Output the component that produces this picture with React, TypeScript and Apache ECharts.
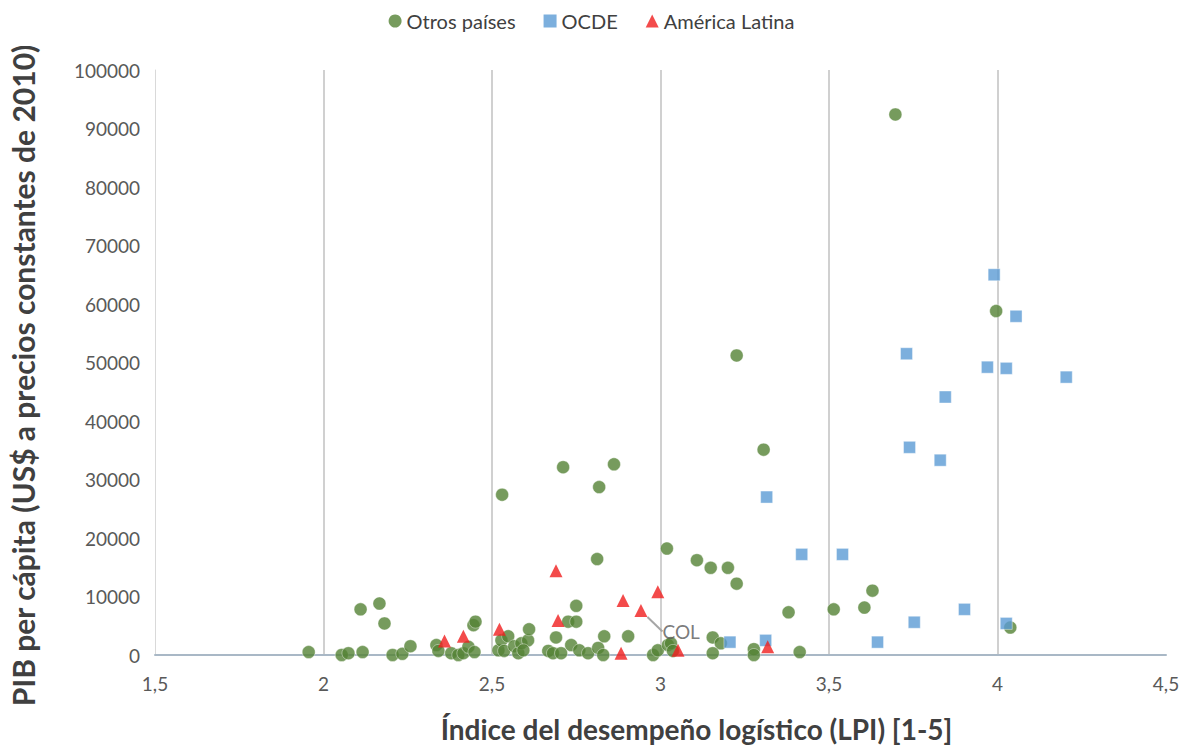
import React, { useEffect, useRef } from "react";
import * as echarts from "echarts";

// Otros países: [LPI, PIB per cápita]
const otrosX = [1.956, 2.054, 2.074, 2.116, 2.110, 2.166, 2.181, 2.205, 2.234, 2.258, 2.335, 2.341, 2.379, 2.400, 2.415, 2.430, 2.448, 2.445, 2.451, 2.519, 2.528, 2.536, 2.548, 2.566, 2.578, 2.587, 2.607, 2.610, 2.593, 2.667, 2.681, 2.690, 2.705, 2.726, 2.750, 2.750, 2.735, 2.759, 2.785, 2.815, 2.830, 2.833, 2.904, 2.978, 2.992, 3.022, 3.031, 3.037, 3.155, 3.179, 3.155, 3.277, 3.277, 3.413, 3.380, 3.514, 3.605, 3.629, 4.038, 3.019, 3.108, 3.149, 3.200, 3.226, 2.812, 2.530, 2.711, 2.862, 2.818, 3.306, 3.226, 3.996, 3.697];
const otrosY = [500, 0, 300, 500, 7800, 8800, 5400, 0, 200, 1500, 1700, 700, 300, 0, 300, 1400, 500, 5100, 5700, 800, 2500, 700, 3200, 1500, 300, 2000, 2500, 4400, 800, 700, 300, 3000, 300, 5700, 5700, 8400, 1700, 800, 300, 1200, 0, 3200, 3200, 0, 800, 1700, 2000, 700, 3000, 2000, 300, 1000, 0, 500, 7300, 7800, 8100, 11000, 4700, 18200, 16200, 14900, 14900, 12200, 16400, 27400, 32100, 32600, 28700, 35100, 51200, 58800, 92400];

// OCDE
const ocdeX = [3.990, 4.055, 3.730, 3.970, 4.026, 4.204, 3.845, 3.739, 3.830, 3.315, 3.419, 3.540, 3.902, 3.753, 4.026, 3.644, 3.206, 3.312];
const ocdeY = [65000, 57900, 51500, 49200, 49000, 47500, 44100, 35500, 33300, 27000, 17200, 17200, 7800, 5600, 5400, 2200, 2200, 2500];

// América Latina
const latamX = [2.359, 2.415, 2.522, 2.690, 2.696, 2.883, 2.889, 2.942, 2.992, 3.052, 3.318];
const latamY = [2400, 3200, 4400, 14400, 5900, 300, 9300, 7600, 10800, 800, 1400];
const latamNames = ["", "", "", "", "", "", "", "COL", "", "", ""];

const xTicks = [1.5, 2, 2.5, 3, 3.5, 4, 4.5];

const FONT = "Lato, 'Open Sans', sans-serif";

export default function App() {
  const ref = useRef<HTMLDivElement>(null);
  useEffect(() => {
    if (!ref.current) return;
    const chart = echarts.init(ref.current, undefined, { renderer: "svg" });
    const otros = otrosX.map((x, i) => [x, otrosY[i]]);
    const ocde = ocdeX.map((x, i) => [x, ocdeY[i]]);
    const latam = latamX.map((x, i) => {
      if (latamNames[i]) {
        return {
          value: [x, latamY[i]],
          name: latamNames[i],
          label: {
            show: true,
            formatter: latamNames[i],
            position: "right",
            color: "#595959",
            fontSize: 19,
            fontFamily: FONT,
          },
          labelLine: { show: true, lineStyle: { color: "#A6A6A6", width: 2 } },
        };
      }
      return [x, latamY[i]];
    });
    chart.setOption({
      animation: false,
      backgroundColor: "#ffffff",
      textStyle: { fontFamily: FONT },
      legend: {
        top: 6,
        left: "center",
        itemGap: 28,
        itemWidth: 13,
        itemHeight: 13,
        itemStyle: { borderWidth: 0 },
        textStyle: { fontSize: 20, color: "#404040", fontFamily: FONT },
        data: [
          { name: "Otros países", icon: "circle" },
          { name: "OCDE", icon: "rect" },
          { name: "América Latina", icon: "triangle" },
        ],
      },
      grid: { left: 153, right: 17, top: 70, bottom: 86, containLabel: false },
      xAxis: {
        type: "value",
        min: xTicks[0],
        max: xTicks[xTicks.length - 1],
        interval: 0.5,
        axisLine: { show: true, lineStyle: { color: "#A9B8C6", width: 2 } },
        axisTick: { show: false },
        axisLabel: {
          fontSize: 19,
          color: "#595959",
          margin: 19,
          fontFamily: FONT,
          formatter: (v: number) => String(v).replace(".", ","),
        },
        splitLine: {
          show: true,
          lineStyle: {
            color: ["rgba(0,0,0,0)", "#D0D0D0", "#D0D0D0", "#D0D0D0", "#D0D0D0", "#D0D0D0", "rgba(0,0,0,0)"],
            width: 2,
          },
        },
        name: "Índice del desempeño logístico (LPI) [1-5]",
        nameLocation: "middle",
        nameGap: 60,
        nameTextStyle: {
          fontSize: 28,
          fontWeight: "bold",
          color: "#404040",
          fontFamily: FONT,
          padding: [0, 0, 0, 72],
        },
      },
      yAxis: {
        type: "value",
        min: 0,
        max: 100000,
        interval: 10000,
        axisLine: { show: true, lineStyle: { color: "#D9D9D9", width: 1 } },
        axisTick: { show: false },
        splitLine: { show: false },
        axisLabel: {
          fontSize: 19,
          color: "#595959",
          margin: 15,
          fontFamily: FONT,
          formatter: (v: number) => String(v),
        },
        name: "PIB per cápita (US$ a precios constantes de 2010)",
        nameLocation: "middle",
        nameGap: 117,
        nameRotate: 90,
        nameTextStyle: {
          fontSize: 30,
          fontWeight: "bold",
          color: "#404040",
          fontFamily: FONT,
          padding: [0, 26, 0, 0],
        },
      },
      series: [
        {
          name: "Otros países",
          type: "scatter",
          symbol: "circle",
          symbolSize: 13,
          itemStyle: { color: "#548235", borderColor: "#ffffff", borderWidth: 0.5 },
          data: otros,
        },
        {
          name: "OCDE",
          type: "scatter",
          symbol: "rect",
          symbolSize: 12,
          itemStyle: { color: "#5B9BD5", borderColor: "#ffffff", borderWidth: 0.5 },
          data: ocde,
        },
        {
          name: "América Latina",
          type: "scatter",
          symbol: "triangle",
          symbolSize: 13,
          itemStyle: { color: "#F01E1E" },
          labelLayout: (params: any) =>
            params.text ? { dx: 10, dy: 21 } : {},
          data: latam,
        },
      ],
    });
    return () => chart.dispose();
  }, []);
  return (
    <div
      ref={ref}
      style={{ position: "fixed", left: 0, top: 0, width: 1183, height: 748, background: "#fff" }}
    />
  );
}
